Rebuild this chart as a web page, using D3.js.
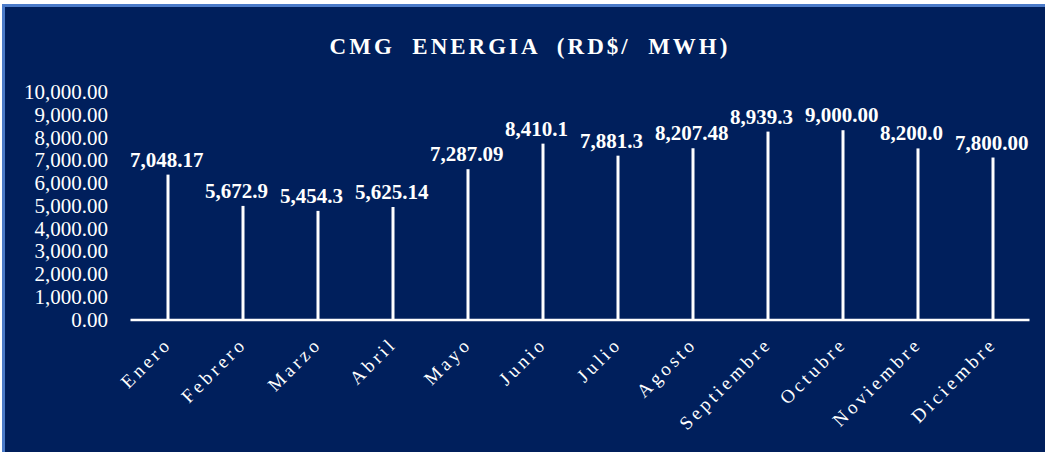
<!DOCTYPE html>
<html><head><meta charset="utf-8">
<script src="https://cdn.jsdelivr.net/npm/d3@7"></script>
<style>
html,body{margin:0;padding:0;background:#fff;}
svg{display:block;}
text{font-family:"Liberation Serif","Times New Roman",serif;}
</style></head>
<body>
<svg id="chart" width="1045" height="452"></svg>
<script>
const months = ["Enero","Febrero","Marzo","Abril","Mayo","Junio","Julio","Agosto","Septiembre","Octubre","Noviembre","Diciembre"];
const values = [7048.17,5672.9,5454.3,5625.14,7287.09,8410.1,7881.3,8207.48,8939.3,9000.00,8200.0,7800.00];
const valueLabels = ["7,048.17","5,672.9","5,454.3","5,625.14","7,287.09","8,410.1","7,881.3","8,207.48","8,939.3","9,000.00","8,200.0","7,800.00"];
const yTicks = [0,1000,2000,3000,4000,5000,6000,7000,8000,9000,10000];
const title = "CMG  ENERGIA  (RD$/  MWH)";
const depthShift = 680; // 3D perspective: bar tops drawn behind the front axis plane

const svg = d3.select("#chart");
const W = 1045, H = 452;
const navy = "#001f5c";

svg.append("rect").attr("x",3.5).attr("y",5.5).attr("width",W).attr("height",H)
  .attr("fill",navy).attr("stroke","#4b7bc9").attr("stroke-width",3);

svg.append("text").attr("x",530).attr("y",54).attr("text-anchor","middle")
  .attr("fill","#fff").attr("font-weight","bold").attr("font-size",23)
  .attr("letter-spacing",3).style("white-space","pre").text(title);

const x = d3.scaleBand().domain(months).range([130.5,1030.5]);
const y = d3.scaleLinear().domain([0,10000]).range([319.5,92]);
const yBar = d3.scaleLinear().domain([depthShift,10000+depthShift]).range([319.5,92]);

// y axis labels
const fmt = d3.format(",.2f");
const yAxis = d3.axisLeft(y).tickValues(yTicks).tickFormat(fmt).tickSize(0).tickPadding(0);
const ga = svg.append("g").attr("transform","translate(108,0)").call(yAxis);
ga.select(".domain").remove();
ga.selectAll("text").attr("fill","#fff").attr("font-size",21)
  .attr("font-family","Liberation Serif, serif");

// bars (drop lines)
svg.selectAll("rect.bar").data(values).join("rect").attr("class","bar")
  .attr("x",(d,i)=>x(months[i])+x.bandwidth()/2-1.5)
  .attr("width",3)
  .attr("y",d=>yBar(d))
  .attr("height",d=>y(0)-yBar(d))
  .attr("fill","#fff");

// baseline
svg.append("line").attr("x1",x.range()[0]).attr("x2",x.range()[1]-1)
  .attr("y1",y(0)+0.5).attr("y2",y(0)+0.5).attr("stroke","#fff").attr("stroke-width",2.5);

// value labels
svg.selectAll("text.val").data(values).join("text").attr("class","val")
  .attr("x",(d,i)=>x(months[i])+x.bandwidth()/2-38)
  .attr("y",d=>yBar(d)-8)
  .attr("fill","#fff").attr("font-weight","bold").attr("font-size",21)
  .text((d,i)=>valueLabels[i]);

// category labels
svg.selectAll("text.cat").data(months).join("text").attr("class","cat")
  .attr("transform",d=>`translate(${x(d)+x.bandwidth()/2+5},${345}) rotate(-45)`)
  .attr("text-anchor","end")
  .attr("fill","#fff").attr("font-size",19).attr("letter-spacing",3.5)
  .text(d=>d);
</script>
</body></html>
